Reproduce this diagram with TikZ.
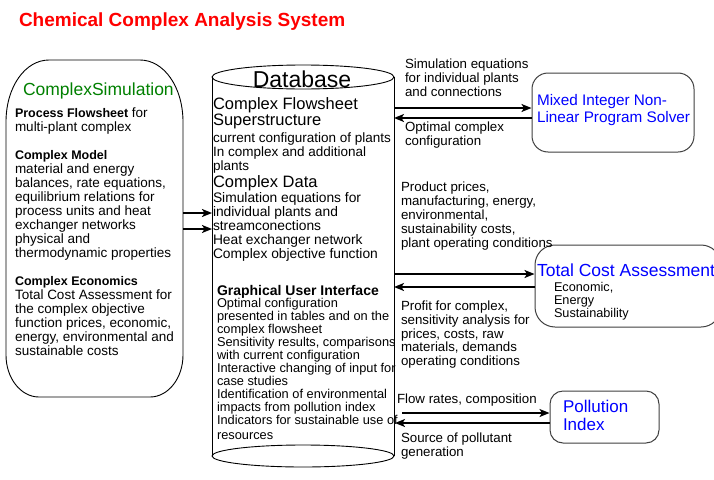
\documentclass[tikz,border=0pt]{standalone}
\usepackage{fontspec}
\setmainfont{Liberation Sans}
\usetikzlibrary{arrows.meta}

\definecolor{titlered}{RGB}{255,0,0}
\definecolor{simgreen}{RGB}{0,128,0}
\definecolor{toolblue}{RGB}{0,0,255}

% font size in px-like points, with fixed line spacing
\newcommand{\fsz}[2]{\fontsize{#1pt}{#2pt}\selectfont\lineskiplimit=-50pt\relax}
% first-line height fixer so that north = baseline - #1
\newcommand{\lead}[1]{\rule{0pt}{#1pt}}
\newcommand{\hd}[1]{{\fontsize{12.5pt}{14pt}\selectfont\bfseries #1}}

\tikzset{
  txt/.style={inner sep=0pt, outer sep=0pt, anchor=north west, align=left},
  one/.style={inner sep=0pt, outer sep=0pt, anchor=base west},
  outline/.style={draw=black, line width=0.9pt},
  toolbox/.style={draw=black!75, line width=1pt, inner sep=0pt},
  frame/.style={inner sep=0pt, outer sep=0pt, draw=none},
  arr/.style={line width=1.6pt, -{Stealth[length=10pt,width=8pt,inset=2.5pt]}},
}

\begin{document}
\begin{tikzpicture}[x=1pt,y=-1pt]
\useasboundingbox[fill=white] (0,0) rectangle (714,479);

% ---- title
\node[one, text=titlered, font=\fsz{19}{20}\bfseries] (title) at (19,26) {Chemical Complex Analysis System};

% ---- ComplexSimulation block
\node[frame, minimum width=177pt, minimum height=337pt] (sim) at (94.5,228.5) {};
\draw[outline] (6,122) .. controls (6,86.8) and (25.2,60) .. (49,60) -- (140,60)
  .. controls (163.8,60) and (183,86.8) .. (183,122) -- (183,355)
  .. controls (183,378.2) and (168.2,397) .. (150,397) -- (39,397)
  .. controls (20.8,397) and (6,378.2) .. (6,355) -- cycle;
\node[one, text=simgreen, font=\fsz{17.5}{18}] (simtitle) at (23,95) {ComplexSimulation};
\node[txt, font=\fsz{13.5}{14}] (simtext) at (15,106) {\lead{11}\hd{Process Flowsheet} for\\
multi-plant complex\\[14pt]
\hd{Complex Model}\\
material and energy\\
balances, rate equations,\\
equilibrium relations for\\
process units and heat\\
exchanger networks\\
physical and\\
thermodynamic properties\\[14pt]
\hd{Complex Economics}\\
Total Cost Assessment for\\
the complex objective\\
function prices, economic,\\
energy, environmental and\\
sustainable costs};

% ---- Database cylinder
\node[frame, minimum width=182pt, minimum height=379pt] (db) at (303,266.5) {};
\draw[outline] (212,77) -- (212,456);
\draw[outline] (394,77) -- (394,456);
\draw[outline] (303,77) ellipse [x radius=91pt, y radius=12pt];
\draw[outline] (303,456) ellipse [x radius=91pt, y radius=11pt];
\node[inner sep=0pt, anchor=base, font=\fsz{23}{24}] (dbtitle) at (302,87) {Database};

\node[txt, font=\fsz{16.5}{16}] (dbA) at (213,96) {\lead{13}Complex Flowsheet\\Superstructure};
\node[txt, font=\fsz{13.5}{14.2}] (dbB) at (213,131) {\lead{11}current configuration of plants\\
In complex and additional\\plants};
\node[one, font=\fsz{16.5}{16}] (dbC) at (213,187.5) {Complex Data};
\node[txt, font=\fsz{13.8}{14.1}] (dbD) at (213,191) {\lead{11}Simulation equations for\\
individual plants and\\
streamconections\\
Heat exchanger network\\
Complex objective function};

\node[one, font=\fsz{14}{14}\bfseries] (gui) at (217,295) {Graphical User Interface};
\node[txt, font=\fsz{12.8}{13.1}] (guitext) at (217,297) {\lead{10}Optimal configuration\\
presented in tables and on the\\
complex flowsheet\\
Sensitivity results, comparisons\\
with current configuration\\
Interactive changing of input for\\
case studies\\
Identification of environmental\\
impacts from pollution index\\
Indicators for sustainable use of\\[1pt]
resources};

% ---- tool boxes
\node[toolbox, rounded corners=16pt, minimum width=162pt, minimum height=79pt] (mip) at (613,112.5) {};
\node[txt, text=toolblue, font=\fsz{15.3}{17}] (miptext) at (537,93.5) {\lead{12}Mixed Integer Non-\\Linear Program Solver};

\node[toolbox, rounded corners=20pt, minimum width=186pt, minimum height=82pt] (tca) at (628,286) {};
\node[one, text=toolblue, font=\fsz{17.5}{18}] (tcatitle) at (537,276) {Total Cost Assessment};
\node[txt, font=\fsz{12.7}{13}] (tcatext) at (554,281.5) {\lead{10}Economic,\\Energy\\Sustainability};

\node[toolbox, rounded corners=13pt, minimum width=109pt, minimum height=52pt] (pol) at (604.5,417) {};
\node[txt, text=toolblue, font=\fsz{17}{18}] (poltext) at (563,399) {\lead{13}Pollution\\Index};

% ---- flow labels
\node[txt, font=\fsz{13.3}{14}] (l1) at (405,57.5) {\lead{11}Simulation equations\\for individual plants\\and connections};
\node[txt, font=\fsz{13.3}{14}] (l2) at (405,120.5) {\lead{11}Optimal complex\\configuration};
\node[txt, font=\fsz{13.3}{14}] (l3) at (401,180.5) {\lead{11}Product prices,\\manufacturing, energy,\\environmental,\\sustainability costs,\\plant operating conditions};
\node[txt, font=\fsz{13.3}{13.8}] (l4) at (401,299.5) {\lead{11}Profit for complex,\\sensitivity analysis for\\prices, costs, raw\\materials, demands\\operating conditions};
\node[one, font=\fsz{13.3}{14}] (l5) at (397,403.5) {Flow rates, composition};
\node[txt, font=\fsz{13.3}{14}] (l6) at (401,431.5) {\lead{11}Source of pollutant\\generation};

% ---- connectors
\path ([yshift=15.5pt]sim.east) coordinate (s1) ([yshift=-0.5pt]sim.east) coordinate (s2);
\draw[arr] (s1) -- (db.west |- s1);
\draw[arr] (s2) -- (db.west |- s2);

\path ([yshift=4.5pt]mip.west) coordinate (m1) ([yshift=-5.5pt]mip.west) coordinate (m2);
\draw[arr] (db.east |- m1) -- (m1);
\draw[arr] (m2) -- (db.east |- m2);

\path ([yshift=12pt]tca.west) coordinate (t1) ([yshift=-1pt]tca.west) coordinate (t2);
\draw[arr] (db.east |- t1) -- (t1);
\draw[arr] (t2) -- (db.east |- t2);

\path ([yshift=4pt]pol.west) coordinate (p1) ([yshift=-6pt]pol.west) coordinate (p2);
\draw[arr] ([xshift=8pt]db.east |- p1) -- (p1);
\draw[arr] (p2) -- ([xshift=1pt]db.east |- p2);
\end{tikzpicture}
\end{document}
